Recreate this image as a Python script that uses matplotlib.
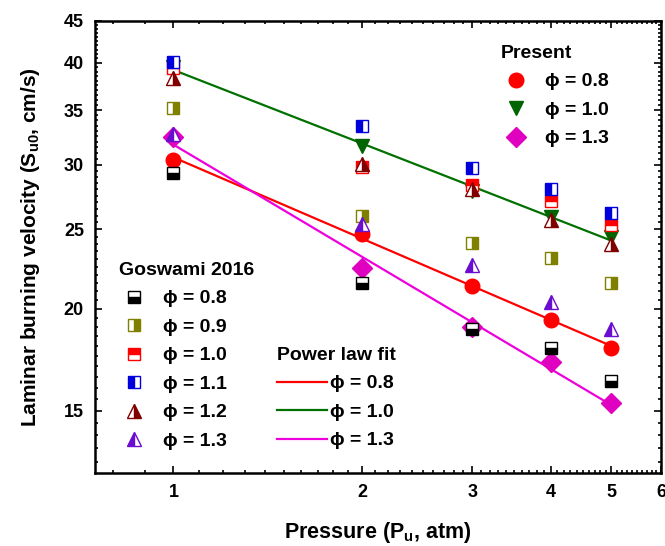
import matplotlib.pyplot as plt
from matplotlib.ticker import FixedLocator, MultipleLocator, NullFormatter, FormatStrFormatter
import numpy as np

plt.rcParams['font.family'] = ['Liberation Sans', 'DejaVu Sans']
plt.rcParams['font.weight'] = 'bold'
plt.rcParams['mathtext.fontset'] = 'custom'
plt.rcParams['mathtext.rm'] = 'Liberation Sans:bold'
plt.rcParams['mathtext.it'] = 'Liberation Sans:bold'
plt.rcParams['mathtext.bf'] = 'Liberation Sans:bold'
plt.rcParams['mathtext.default'] = 'bf'

pressure = [1, 2, 3, 4, 5]

# present measurements
present_08 = [30.4, 24.7, 21.3, 19.4, 17.9]
present_10 = [39.5, 31.6, 27.9, 25.9, 24.5]
present_13 = [32.4, 22.4, 19.0, 17.2, 15.35]

# Goswami 2016
gos_08 = [29.3, 21.5, 18.9, 17.9, 16.3]
gos_09 = [35.2, 26.0, 24.1, 23.1, 21.5]
gos_10 = [39.4, 29.8, 28.3, 27.1, 25.3]
gos_11 = [40.1, 33.5, 29.7, 28.0, 26.2]
gos_12 = [38.3, 30.1, 28.0, 25.7, 24.0]
gos_13 = [32.7, 25.4, 22.6, 20.4, 18.9]

phi = '\u03d5'

fig = plt.figure(figsize=(6.65, 5.46), dpi=100)
ax = fig.add_axes([0.143, 0.134, 0.851, 0.828])
ax.set_xscale('log')
ax.set_yscale('log')

P = np.array(pressure, dtype=float)

# power law fits
fit_lines = []
for vals, col, lab in [(present_08, '#ff0000', '0.8'),
                       (present_10, '#007000', '1.0'),
                       (present_13, '#ee00dd', '1.3')]:
    b, a = np.polyfit(np.log(P), np.log(vals), 1)
    ln, = ax.plot(P, np.exp(a) * P ** b, '-', color=col, lw=1.6,
                  label=f'{phi} = {lab}', zorder=2)
    fit_lines.append(ln)

# present data
pres = []
for vals, mk, col, ms, lab in [(present_08, 'o', '#ff0000', 10.5, '0.8'),
                               (present_10, 'v', '#006400', 10.5, '1.0'),
                               (present_13, 'D', '#e000c0', 10.5, '1.3')]:
    ln, = ax.plot(P, vals, mk, color=col, ms=ms, mec=col, ls='none',
                  label=f'{phi} = {lab}', zorder=3)
    pres.append(ln)

# Goswami data, half filled
gos = []
for vals, mk, col, fs, ms, lab in [(gos_08, 's', '#000000', 'bottom', 8, '0.8'),
                                   (gos_09, 's', '#808000', 'right', 8, '0.9'),
                                   (gos_10, 's', '#ff0000', 'top', 8, '1.0'),
                                   (gos_11, 's', '#0000dd', 'left', 8, '1.1'),
                                   (gos_12, '^', '#800000', 'right', 10, '1.2'),
                                   (gos_13, '^', '#6a0dd0', 'left', 10, '1.3')]:
    ln, = ax.plot(P, vals, mk, color=col, mec=col, mfc=col, fillstyle=fs,
                  markerfacecoloralt='white', ms=ms, mew=1.0, ls='none',
                  label=f'{phi} = {lab}', zorder=4)
    gos.append(ln)

ax.set_xlim(0.75, 6)
ax.set_ylim(12.6, 45)

ax.xaxis.set_major_locator(FixedLocator([1, 2, 3, 4, 5, 6]))
ax.xaxis.set_major_formatter(FormatStrFormatter('%d'))
ax.xaxis.set_minor_locator(MultipleLocator(0.1))
ax.xaxis.set_minor_formatter(NullFormatter())
ax.yaxis.set_major_locator(FixedLocator([15, 20, 25, 30, 35, 40, 45]))
ax.yaxis.set_major_formatter(FormatStrFormatter('%d'))
ax.yaxis.set_minor_locator(MultipleLocator(0.5))
ax.yaxis.set_minor_formatter(NullFormatter())

ax.tick_params(which='both', direction='in', top=True, right=True, width=1.2)
ax.tick_params(which='major', length=5, labelsize=13, pad=8)
ax.tick_params(which='minor', length=2.5)
for s in ax.spines.values():
    s.set_linewidth(1.8)
for t in ax.get_xticklabels() + ax.get_yticklabels():
    t.set_fontweight('bold')

ax.set_xlabel('Pressure (P$_u$, atm)', fontsize=15.5, fontweight='bold', labelpad=14)
ax.set_ylabel('Laminar burning velocity (S$_{u0}$, cm/s)', fontsize=15,
              fontweight='bold', labelpad=16)

common = dict(frameon=False, fontsize=14, loc='upper left', borderaxespad=0,
              borderpad=0.15, alignment='left', labelspacing=0.56,
              title_fontproperties={'weight': 'bold', 'size': 14})

leg1 = ax.legend(handles=pres, title='Present', bbox_to_anchor=(0.712, 0.953),
                 handlelength=1.5, handletextpad=0.75, **common)
ax.add_artist(leg1)
leg2 = ax.legend(handles=gos, title='Goswami 2016', bbox_to_anchor=(0.037, 0.473),
                 handlelength=1.5, handletextpad=0.75, **common)
ax.add_artist(leg2)
leg3 = ax.legend(handles=fit_lines, title='Power law fit', bbox_to_anchor=(0.316, 0.285),
                 handlelength=2.6, handletextpad=0.15, **common)

fig.savefig('out.png', dpi=100)
